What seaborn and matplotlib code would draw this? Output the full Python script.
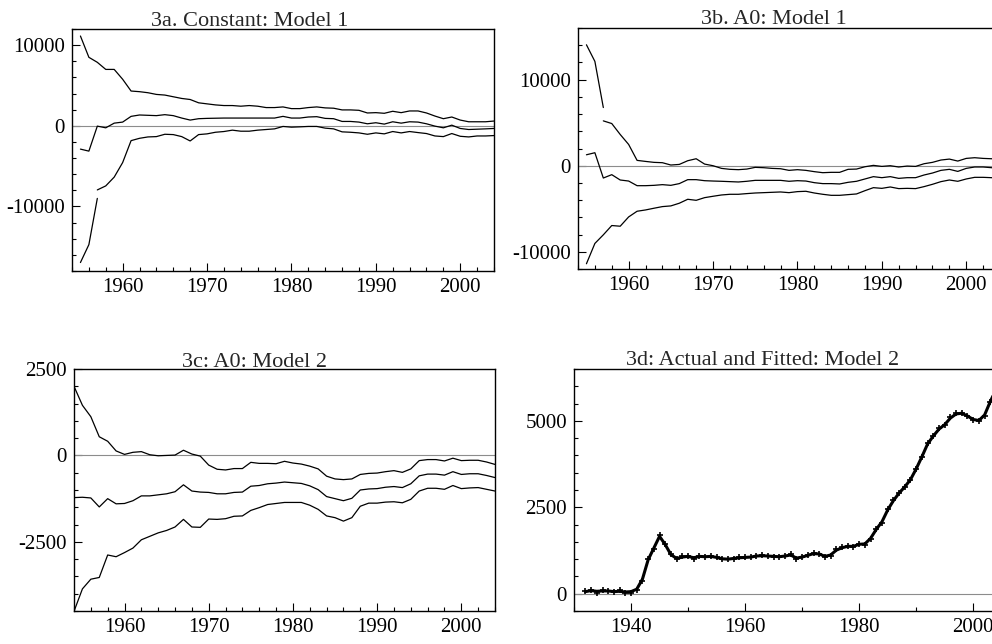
import numpy as np
import pandas as pd
import seaborn as sns
import matplotlib.pyplot as plt
from matplotlib.ticker import MultipleLocator

# ---- data ----
years_ab = list(range(1955, 2005))
years_c = list(range(1954, 2005))
years_d = list(range(1932, 2005))

# 3a. Constant: Model 1
a_upper = [11130, 8490, 7870, 6990, 6990, 5770, 4310, 4230, 4100, 3890,
           3810, 3600, 3390, 3260, 2850, 2720, 2590, 2510, 2510, 2430,
           2510, 2430, 2260, 2260, 2340, 2130, 2130, 2260, 2340, 2220,
           2180, 1970, 1970, 1920, 1590, 1630, 1550, 1800, 1630, 1840,
           1840, 1590, 1210, 880, 1090, 710, 500, 500, 500, 590]
a_mid = [-2890, -3140, -40, -250, 330, 460, 1170, 1340, 1300, 1260,
         1380, 1260, 960, 710, 880, 920, 940, 960, 960, 960,
         960, 960, 960, 960, 1170, 960, 960, 1090, 1130, 920,
         880, 540, 540, 460, 250, 380, 210, 500, 330, 500,
         460, 250, -40, -250, 80, -330, -460, -420, -380, -330]
a_lower_head_years = [1955, 1956, 1957]
a_lower_head = [-16950, -14730, -9000]
a_lower_years = list(range(1957, 2005))
a_lower = [-7950, -7450, -6360, -4560, -1840, -1550, -1380, -1340,
           -1050, -1090, -1340, -1880, -1090, -1000, -800, -710, -540, -670,
           -670, -540, -460, -380, -80, -170, -130, -80, -80, -290,
           -380, -750, -800, -880, -1050, -880, -1000, -710, -880, -710,
           -840, -960, -1260, -1340, -960, -1300, -1380, -1260, -1260, -1210]

# 3b. A0: Model 1
b_upper_head_years = [1955, 1956, 1957]
b_upper_head = [14050, 12120, 6760]
b_upper_years = list(range(1957, 2005))
b_upper = [5210, 4900, 3630, 2470, 620, 500, 390, 350,
           80, 150, 580, 810, 190, 0, -310, -420, -460, -390,
           -190, -230, -310, -350, -540, -460, -540, -690, -810, -770,
           -770, -420, -390, -120, 40, -80, 0, -150, -40, -80,
           230, 390, 660, 770, 540, 850, 930, 850, 810, 770]
b_mid = [1270, 1510, -1430, -1040, -1660, -1780, -2320, -2320, -2280, -2200,
         -2280, -2080, -1620, -1620, -1740, -1780, -1810, -1850, -1890, -1810,
         -1700, -1700, -1700, -1700, -1810, -1740, -1780, -1970, -2080, -2080,
         -2120, -1930, -1810, -1540, -1270, -1390, -1270, -1470, -1390, -1390,
         -1080, -850, -540, -420, -660, -310, -150, -150, -230, -310]
b_lower = [-11390, -9030, -8030, -6950, -7030, -5950, -5290, -5140, -4940, -4750,
           -4670, -4360, -3900, -4020, -3710, -3550, -3400, -3320, -3320, -3240,
           -3170, -3130, -3090, -3050, -3130, -3010, -2970, -3170, -3320, -3440,
           -3440, -3360, -3280, -2900, -2550, -2630, -2470, -2660, -2630, -2660,
           -2430, -2160, -1850, -1660, -1810, -1540, -1350, -1350, -1390, -1430]

# 3c: A0: Model 2
c_upper = [2000, 1450, 1120, 540, 410, 130, 30, 90, 110, 20,
           -10, 0, 10, 150, 40, -20, -280, -400, -420, -380,
           -380, -200, -230, -230, -240, -170, -220, -250, -310, -390,
           -600, -680, -700, -680, -550, -520, -510, -470, -440, -490,
           -390, -150, -120, -120, -160, -80, -150, -140, -140, -190, -260]
c_mid = [-1220, -1210, -1230, -1490, -1250, -1400, -1390, -1310, -1170, -1170,
         -1140, -1110, -1050, -850, -1030, -1060, -1070, -1110, -1110, -1070,
         -1060, -890, -870, -820, -800, -770, -790, -810, -880, -990,
         -1190, -1250, -1310, -1240, -1000, -970, -960, -920, -900, -930,
         -820, -590, -540, -540, -570, -470, -550, -530, -530, -580, -640]
c_lower = [-4510, -3860, -3580, -3530, -2880, -2930, -2810, -2680, -2440, -2340,
           -2240, -2170, -2070, -1850, -2070, -2080, -1840, -1850, -1830, -1760,
           -1750, -1590, -1510, -1420, -1390, -1360, -1360, -1360, -1440, -1560,
           -1750, -1800, -1900, -1800, -1470, -1380, -1380, -1350, -1340, -1370,
           -1270, -1030, -950, -950, -980, -870, -960, -940, -930, -980, -1030]

# 3d: Actual and Fitted: Model 2
d_actual = [70, 120, 30, 110, 70, 40, 100, 30, 20, 120,
            380, 1000, 1300, 1700, 1450, 1150, 1000, 1080, 1100, 1000,
            1100, 1070, 1090, 1060, 1000, 990, 1010, 1050, 1060, 1050,
            1100, 1110, 1090, 1070, 1070, 1100, 1150, 1010, 1050, 1120,
            1180, 1160, 1060, 1100, 1280, 1340, 1390, 1360, 1450, 1420,
            1580, 1880, 2050, 2450, 2700, 2900, 3100, 3280, 3600, 3950,
            4350, 4550, 4780, 4870, 5100, 5220, 5230, 5150, 5020, 4990,
            5150, 5550, 5900]
d_fitted = [60, 90, 70, 80, 80, 60, 70, 50, 60, 130,
            420, 980, 1320, 1660, 1420, 1130, 1020, 1060, 1080, 1040,
            1080, 1070, 1080, 1050, 1010, 1000, 1020, 1040, 1050, 1060,
            1090, 1100, 1090, 1080, 1070, 1090, 1120, 1030, 1060, 1110,
            1160, 1150, 1080, 1120, 1260, 1330, 1370, 1370, 1430, 1440,
            1600, 1860, 2080, 2420, 2690, 2910, 3090, 3300, 3610, 3960,
            4330, 4560, 4760, 4890, 5080, 5200, 5220, 5140, 5040, 5010,
            5170, 5560, 5900]

# ---- styling ----
sns.set_theme(style="white")
plt.rcParams["font.family"] = ["Liberation Serif", "DejaVu Serif"]
plt.rcParams["font.size"] = 15
plt.rcParams["axes.unicode_minus"] = False

fig = plt.figure(figsize=(9.92, 6.44), dpi=100)
W, H = 992, 644


def make_ax(left, top, right, bottom):
    return fig.add_axes([left / W, (H - bottom) / H, (right - left) / W, (bottom - top) / H])


def style(ax, xlim, ylim, xmaj, xmin, ymaj, ymin):
    ax.set_xlim(*xlim)
    ax.set_ylim(*ylim)
    ax.xaxis.set_major_locator(MultipleLocator(xmaj))
    ax.xaxis.set_minor_locator(MultipleLocator(xmin))
    ax.yaxis.set_major_locator(MultipleLocator(ymaj))
    ax.yaxis.set_minor_locator(MultipleLocator(ymin))
    ax.tick_params(which="both", direction="in", top=False, right=False,
                   bottom=True, left=True, color="black", width=0.8,
                   labelsize=15, labelcolor="black")
    ax.tick_params(which="major", length=6, pad=5)
    ax.tick_params(which="minor", length=3)
    for s in ax.spines.values():
        s.set_color("black")
        s.set_linewidth(1.0)
    ax.axhline(0, color="#8c8c8c", lw=0.8, zorder=1)
    ax.set_xlabel("")
    ax.set_ylabel("")


line_kw = dict(color="black", linewidth=0.9, estimator=None, sort=False)

# 3a
ax = make_ax(72, 29, 494, 271)
sns.lineplot(x=years_ab, y=a_upper, ax=ax, **line_kw)
sns.lineplot(x=years_ab, y=a_mid, ax=ax, **line_kw)
sns.lineplot(x=a_lower_head_years, y=a_lower_head, ax=ax, **line_kw)
sns.lineplot(x=a_lower_years, y=a_lower, ax=ax, **line_kw)
style(ax, (1954, 2004), (-18000, 12000), 10, 2, 10000, 2000)

# 3b
ax = make_ax(578, 28, 1000, 269)
sns.lineplot(x=b_upper_head_years, y=b_upper_head, ax=ax, **line_kw)
sns.lineplot(x=b_upper_years, y=b_upper, ax=ax, **line_kw)
sns.lineplot(x=years_ab, y=b_mid, ax=ax, **line_kw)
sns.lineplot(x=years_ab, y=b_lower, ax=ax, **line_kw)
style(ax, (1954, 2004), (-12000, 16000), 10, 2, 10000, 2000)

# 3c
ax = make_ax(74, 369, 495, 611)
sns.lineplot(x=years_c, y=c_upper, ax=ax, **line_kw)
sns.lineplot(x=years_c, y=c_mid, ax=ax, **line_kw)
sns.lineplot(x=years_c, y=c_lower, ax=ax, **line_kw)
style(ax, (1954, 2004), (-4500, 2500), 10, 2, 2500, 500)

# 3d
ax = make_ax(574, 369, 996, 611)
sns.lineplot(x=years_d, y=d_fitted, ax=ax, color="black", linewidth=2.2,
             estimator=None, sort=False)
sns.scatterplot(x=years_d, y=d_actual, ax=ax, marker="+", color="black",
                s=22, linewidth=1.2, zorder=3)
style(ax, (1930, 2004), (-500, 6500), 20, 10, 2500, 500)

# titles
tkw = dict(ha="center", va="baseline", fontsize=16)
fig.text(250 / W, (H - 26) / H, "3a. Constant: Model 1", **tkw)
fig.text(773.5 / W, (H - 24) / H, "3b. A0: Model 1", **tkw)
fig.text(254 / W, (H - 367) / H, "3c: A0: Model 2", **tkw)
fig.text(763 / W, (H - 365) / H, "3d: Actual and Fitted: Model 2", **tkw)

fig.savefig("out.png", dpi=100)
